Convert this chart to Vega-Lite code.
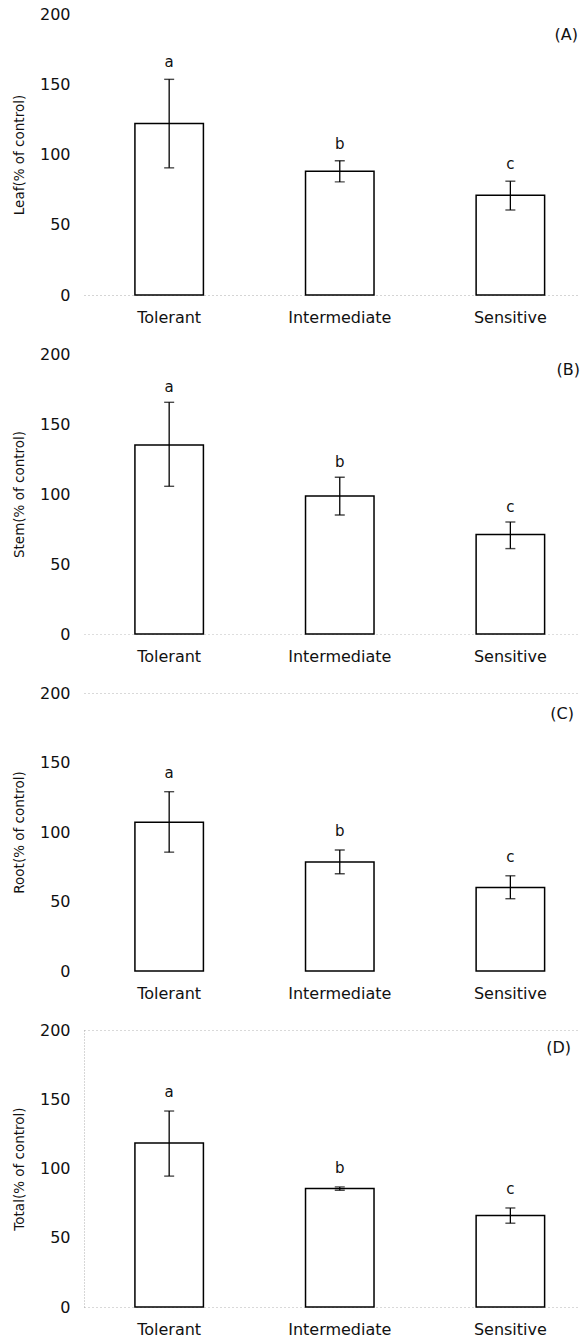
{
  "$schema": "https://vega.github.io/schema/vega-lite/v6.json",
  "padding": {"left": 12, "top": 6, "right": 3, "bottom": 0},
  "background": "white",
  "spacing": 21,
  "data": {"values": [
    {"panel": "A", "group": "Tolerant", "mean": 122, "lo": 90.5, "hi": 153.5, "letter": "a"},
    {"panel": "A", "group": "Intermediate", "mean": 88, "lo": 80.5, "hi": 95.5, "letter": "b"},
    {"panel": "A", "group": "Sensitive", "mean": 71, "lo": 60.5, "hi": 81, "letter": "c"},
    {"panel": "B", "group": "Tolerant", "mean": 135, "lo": 105.5, "hi": 165.5, "letter": "a"},
    {"panel": "B", "group": "Intermediate", "mean": 98.5, "lo": 85, "hi": 112, "letter": "b"},
    {"panel": "B", "group": "Sensitive", "mean": 71, "lo": 61, "hi": 80, "letter": "c"},
    {"panel": "C", "group": "Tolerant", "mean": 107, "lo": 85.5, "hi": 129, "letter": "a"},
    {"panel": "C", "group": "Intermediate", "mean": 78.5, "lo": 70, "hi": 87, "letter": "b"},
    {"panel": "C", "group": "Sensitive", "mean": 60, "lo": 52, "hi": 68.5, "letter": "c"},
    {"panel": "D", "group": "Tolerant", "mean": 118.5, "lo": 94.5, "hi": 141.5, "letter": "a"},
    {"panel": "D", "group": "Intermediate", "mean": 85.5, "lo": 84.3, "hi": 86.7, "letter": "b"},
    {"panel": "D", "group": "Sensitive", "mean": 66, "lo": 60.5, "hi": 71.5, "letter": "c"}
  ]},
  "config": {
    "view": {"stroke": null},
    "font": "DejaVu Sans",
    "axis": {"ticks": false, "domain": false, "labelColor": "#111", "titleColor": "#111", "labelFont": "DejaVu Sans", "titleFont": "DejaVu Sans"},
    "axisX": {"labelFontSize": 16, "labelPadding": 14, "labelAngle": 0, "title": null, "grid": false},
    "axisY": {"labelFontSize": 16, "labelPadding": 14, "titleFontSize": 13.5, "titleFontWeight": "normal", "titlePadding": 13, "grid": true, "gridColor": "#888", "gridDash": [1, 3], "gridWidth": 0.8},
    "title": {"anchor": "end", "fontSize": 16, "fontWeight": "normal", "font": "DejaVu Sans", "color": "#111"},
    "text": {"fontSize": 15, "color": "#111"}
  },
  "vconcat": [
    {
      "width": 494, "height": 281,
      "title": {"text": "(A)", "offset": -37},
      "transform": [{"filter": "datum.panel === 'A'"}],
      "encoding": {"x": {"field": "group", "type": "nominal", "sort": ["Tolerant", "Intermediate", "Sensitive"], "scale": {"paddingInner": 0.5985, "paddingOuter": 0.2471, "align": 0.604}}},
      "layer": [
        {"mark": {"type": "bar", "fill": "white", "stroke": "black", "strokeWidth": 1.5},
         "encoding": {"y": {"field": "mean", "type": "quantitative", "title": "Leaf(% of control)", "scale": {"domain": [0, 200], "nice": false}, "axis": {"values": [0, 50, 100, 150, 200], "gridOpacity": {"condition": {"test": "datum.value === 0", "value": 0.9}, "value": 0}}}}},
        {"mark": {"type": "rule", "color": "black", "strokeWidth": 1.3},
         "encoding": {"y": {"field": "lo", "type": "quantitative", "title": "Leaf(% of control)"}, "y2": {"field": "hi"}}},
        {"mark": {"type": "tick", "color": "black", "size": 10, "thickness": 1.4},
         "encoding": {"y": {"field": "lo", "type": "quantitative", "title": "Leaf(% of control)"}}},
        {"mark": {"type": "tick", "color": "black", "size": 10, "thickness": 1.4},
         "encoding": {"y": {"field": "hi", "type": "quantitative", "title": "Leaf(% of control)"}}},
        {"mark": {"type": "text", "dy": -12, "baseline": "alphabetic"},
         "encoding": {"y": {"field": "hi", "type": "quantitative", "title": "Leaf(% of control)"}, "text": {"field": "letter"}}}
      ]
    },
    {
      "width": 494, "height": 280,
      "title": {"text": "(B)", "offset": -32, "dx": 2},
      "transform": [{"filter": "datum.panel === 'B'"}],
      "encoding": {"x": {"field": "group", "type": "nominal", "sort": ["Tolerant", "Intermediate", "Sensitive"], "scale": {"paddingInner": 0.5985, "paddingOuter": 0.2471, "align": 0.604}}},
      "layer": [
        {"mark": {"type": "bar", "fill": "white", "stroke": "black", "strokeWidth": 1.5},
         "encoding": {"y": {"field": "mean", "type": "quantitative", "title": "Stem(% of control)", "scale": {"domain": [0, 200], "nice": false}, "axis": {"values": [0, 50, 100, 150, 200], "gridOpacity": {"condition": {"test": "datum.value === 0", "value": 0.7}, "value": 0}}}}},
        {"mark": {"type": "rule", "color": "black", "strokeWidth": 1.3},
         "encoding": {"y": {"field": "lo", "type": "quantitative", "title": "Stem(% of control)"}, "y2": {"field": "hi"}}},
        {"mark": {"type": "tick", "color": "black", "size": 10, "thickness": 1.4},
         "encoding": {"y": {"field": "lo", "type": "quantitative", "title": "Stem(% of control)"}}},
        {"mark": {"type": "tick", "color": "black", "size": 10, "thickness": 1.4},
         "encoding": {"y": {"field": "hi", "type": "quantitative", "title": "Stem(% of control)"}}},
        {"mark": {"type": "text", "dy": -10, "baseline": "alphabetic"},
         "encoding": {"y": {"field": "hi", "type": "quantitative", "title": "Stem(% of control)"}, "text": {"field": "letter"}}}
      ]
    },
    {
      "width": 494, "height": 278,
      "title": {"text": "(C)", "offset": -37, "dx": -4},
      "transform": [{"filter": "datum.panel === 'C'"}],
      "encoding": {"x": {"field": "group", "type": "nominal", "sort": ["Tolerant", "Intermediate", "Sensitive"], "scale": {"paddingInner": 0.5985, "paddingOuter": 0.2471, "align": 0.604}}},
      "layer": [
        {"mark": {"type": "bar", "fill": "white", "stroke": "black", "strokeWidth": 1.5},
         "encoding": {"y": {"field": "mean", "type": "quantitative", "title": "Root(% of control)", "scale": {"domain": [0, 200], "nice": false}, "axis": {"values": [0, 50, 100, 150, 200], "gridOpacity": {"condition": {"test": "datum.value === 200", "value": 0.8}, "value": 0}}}}},
        {"mark": {"type": "rule", "color": "black", "strokeWidth": 1.3},
         "encoding": {"y": {"field": "lo", "type": "quantitative", "title": "Root(% of control)"}, "y2": {"field": "hi"}}},
        {"mark": {"type": "tick", "color": "black", "size": 10, "thickness": 1.4},
         "encoding": {"y": {"field": "lo", "type": "quantitative", "title": "Root(% of control)"}}},
        {"mark": {"type": "tick", "color": "black", "size": 10, "thickness": 1.4},
         "encoding": {"y": {"field": "hi", "type": "quantitative", "title": "Root(% of control)"}}},
        {"mark": {"type": "text", "dy": -14, "baseline": "alphabetic"},
         "encoding": {"y": {"field": "hi", "type": "quantitative", "title": "Root(% of control)"}, "text": {"field": "letter"}}}
      ]
    },
    {
      "width": 494, "height": 277,
      "title": {"text": "(D)", "offset": -34, "dx": -7},
      "transform": [{"filter": "datum.panel === 'D'"}],
      "encoding": {"x": {"field": "group", "type": "nominal", "sort": ["Tolerant", "Intermediate", "Sensitive"], "scale": {"paddingInner": 0.5985, "paddingOuter": 0.2471, "align": 0.604}}},
      "layer": [
        {"mark": {"type": "bar", "fill": "white", "stroke": "black", "strokeWidth": 1.5},
         "encoding": {"y": {"field": "mean", "type": "quantitative", "title": "Total(% of control)", "scale": {"domain": [0, 200], "nice": false}, "axis": {"values": [0, 50, 100, 150, 200], "domain": true, "domainColor": "#999", "domainDash": [1, 2], "domainWidth": 0.8, "gridOpacity": {"condition": {"test": "datum.value === 0 || datum.value === 200", "value": 0.8}, "value": 0}}}}},
        {"mark": {"type": "rule", "color": "black", "strokeWidth": 1.3},
         "encoding": {"y": {"field": "lo", "type": "quantitative", "title": "Total(% of control)"}, "y2": {"field": "hi"}}},
        {"mark": {"type": "tick", "color": "black", "size": 10, "thickness": 1.4},
         "encoding": {"y": {"field": "lo", "type": "quantitative", "title": "Total(% of control)"}}},
        {"mark": {"type": "tick", "color": "black", "size": 10, "thickness": 1.4},
         "encoding": {"y": {"field": "hi", "type": "quantitative", "title": "Total(% of control)"}}},
        {"mark": {"type": "text", "dy": -14, "baseline": "alphabetic"},
         "encoding": {"y": {"field": "hi", "type": "quantitative", "title": "Total(% of control)"}, "text": {"field": "letter"}}}
      ]
    }
  ]
}
